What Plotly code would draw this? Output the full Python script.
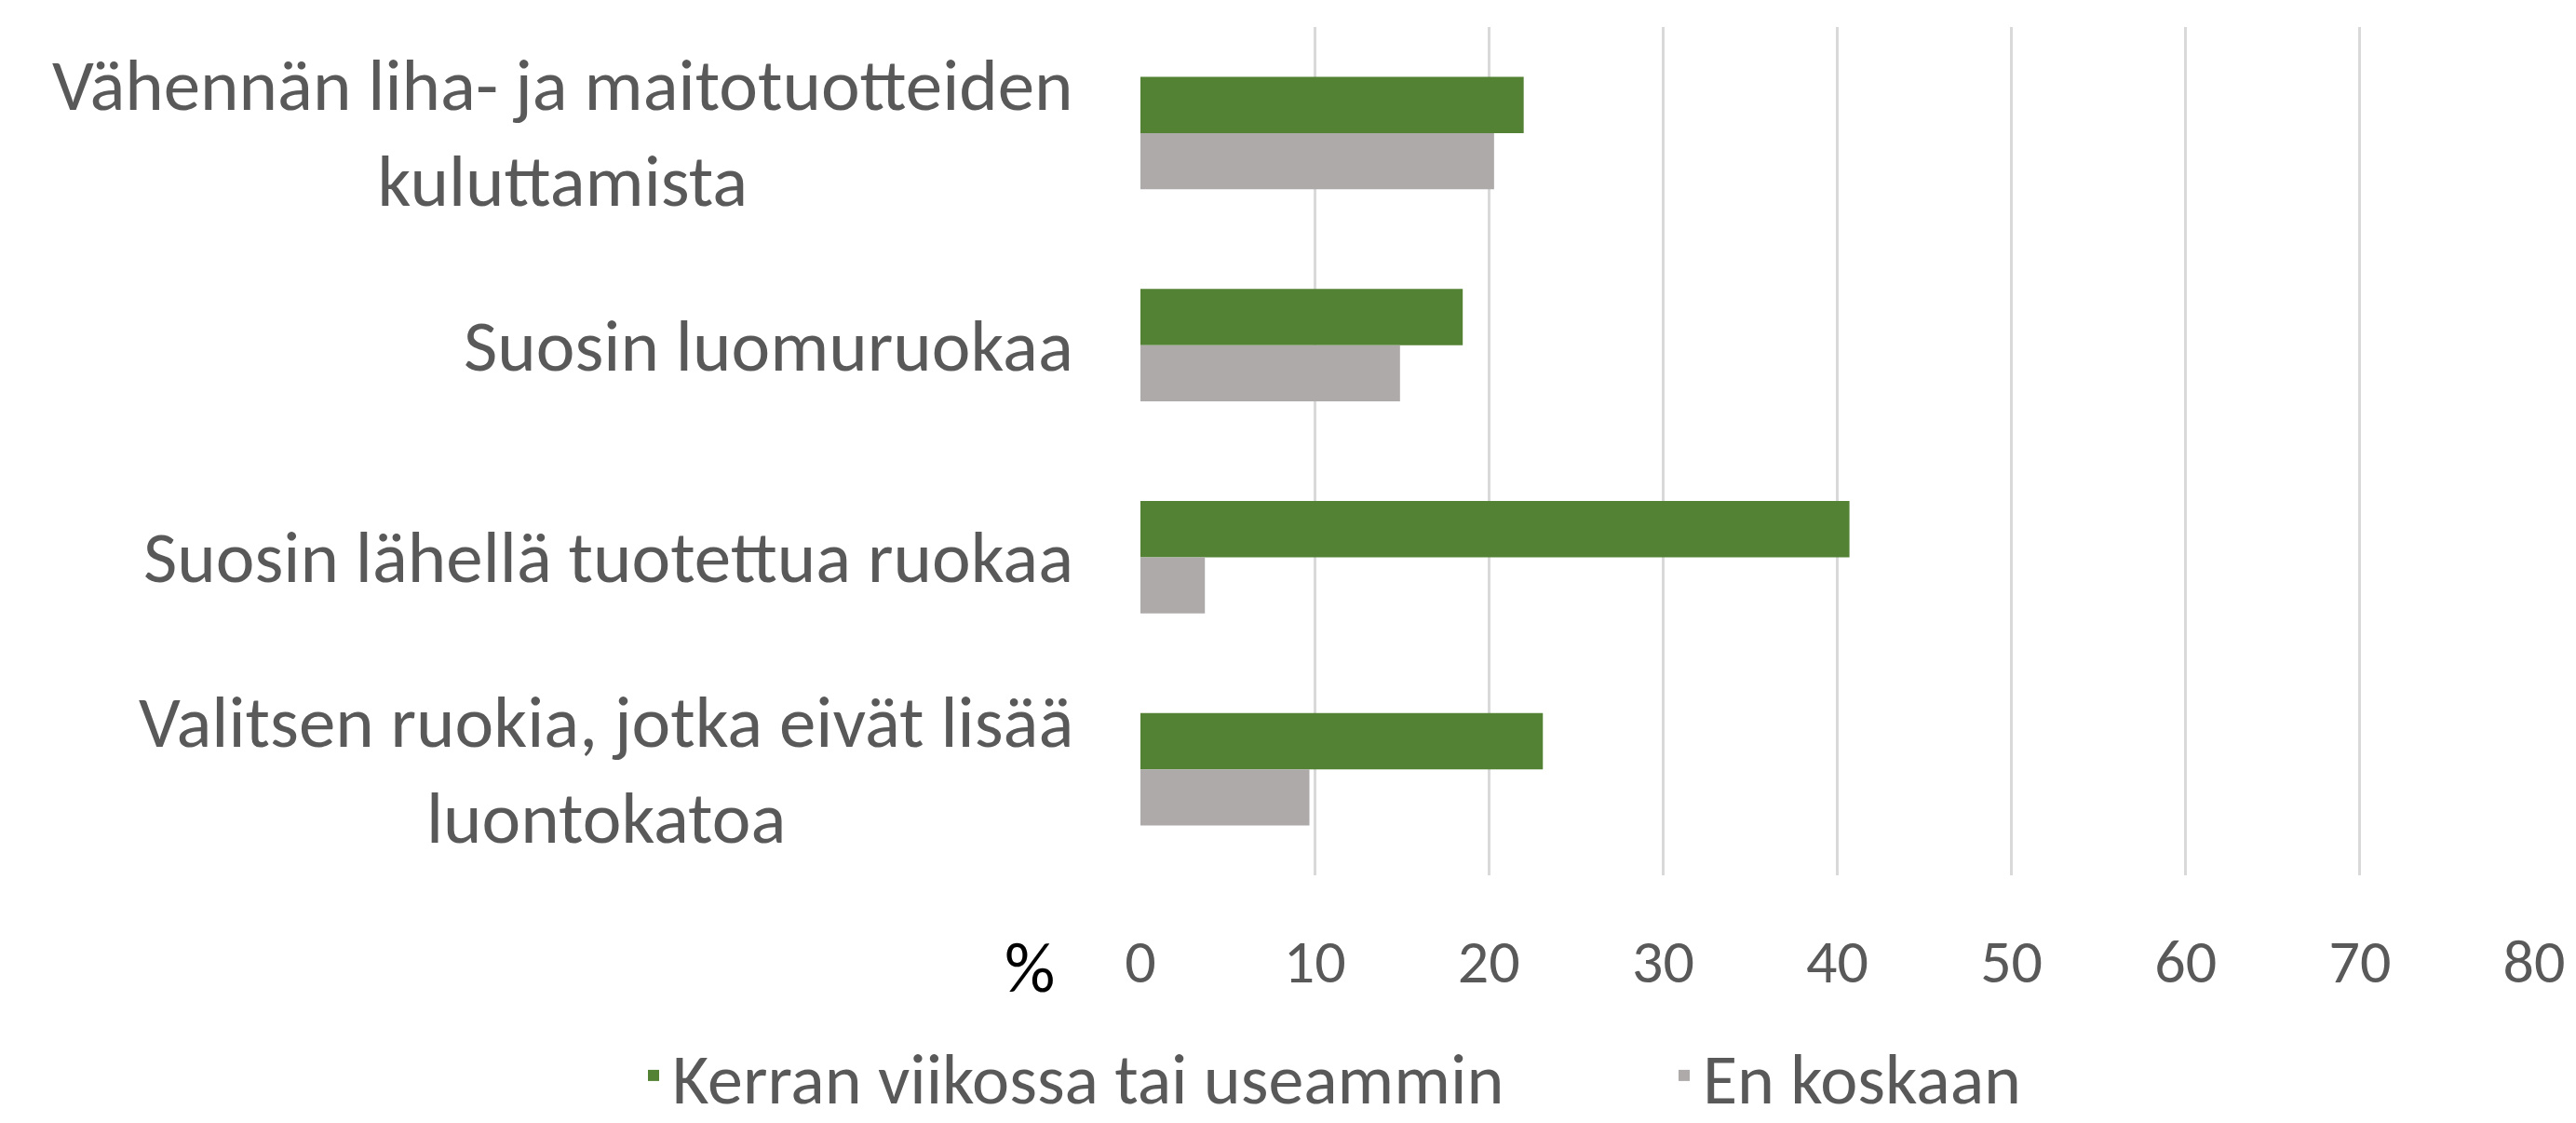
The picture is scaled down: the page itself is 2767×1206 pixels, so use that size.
import plotly.graph_objects as go

categories = [
    "Vähennän liha- ja maitotuotteiden<br>kuluttamista",
    "Suosin luomuruokaa",
    "Suosin lähellä tuotettua ruokaa",
    "Valitsen ruokia, jotka eivät lisää<br>luontokatoa",
]
series_names = ["Kerran viikossa tai useammin", "En koskaan"]
weekly = [22.0, 18.5, 40.7, 23.1]
never = [20.3, 14.9, 3.7, 9.7]
x_ticks = [0, 10, 20, 30, 40, 50, 60, 70, 80]
axis_unit = "%"

GREEN = "#548235"
GRAY = "#AEAAAA"
TEXT = "#595959"
FONT = "Calibri, Carlito, Lato, sans-serif"

W, H = 2767, 1206
L, R, T, B = 1225, 40, 29, 266

fig = go.Figure()
fig.add_trace(go.Bar(y=categories, x=weekly, name=series_names[0], orientation="h",
                     legendwidth=1062,
                     marker=dict(color=GREEN, line=dict(width=0))))
fig.add_trace(go.Bar(y=categories, x=never, name=series_names[1], orientation="h",
                     marker=dict(color=GRAY, line=dict(width=0))))

fig.update_layout(
    width=W, height=H,
    margin=dict(l=L, r=R, t=T, b=B, pad=0),
    paper_bgcolor="white", plot_bgcolor="white",
    barmode="group", bargap=0.47, bargroupgap=0,
    font=dict(family=FONT, color=TEXT, size=60),
    showlegend=True,
    legend=dict(orientation="h", xref="container", yref="container",
                x=682 / W, xanchor="left", y=1 - 1155 / H, yanchor="middle",
                font=dict(size=76, color=TEXT), itemwidth=30,
                bgcolor="rgba(0,0,0,0)"),
)
fig.update_xaxes(range=[0, 80], tickvals=x_ticks, ticktext=[str(v) for v in x_ticks],
                 showgrid=True, gridcolor="#D9D9D9", gridwidth=3,
                 zeroline=False, showline=False, ticks="",
                 ticklabelstandoff=48,
                 tickfont=dict(size=66, color=TEXT, family=FONT), fixedrange=True)
fig.update_yaxes(autorange="reversed", showticklabels=False, showgrid=False,
                 zeroline=False, showline=False, ticks="", fixedrange=True)

for c in categories:
    fig.add_annotation(x=-0.047, xref="paper", y=c, yref="y", text=c,
                       showarrow=False, xanchor="right", yanchor="middle",
                       align="center", font=dict(size=79, color=TEXT, family=FONT))

fig.add_annotation(x=-0.0792, xref="paper", y=-0.1087, yref="paper", text=axis_unit,
                   showarrow=False, xanchor="center", yanchor="middle",
                   font=dict(size=76, color="black", family=FONT))

fig.write_html("out.html", config={"displayModeBar": False},
               post_script="document.body.style.margin='0';document.body.style.overflow='hidden';")
